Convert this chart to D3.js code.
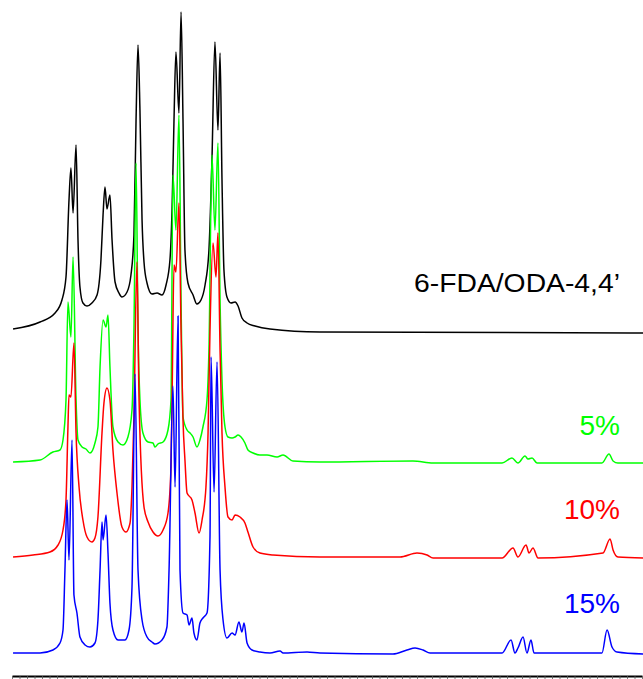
<!DOCTYPE html>
<html>
<head>
<meta charset="utf-8">
<script src="https://cdn.jsdelivr.net/npm/d3@7/dist/d3.min.js"></script>
<style>
  html, body { margin: 0; padding: 0; background: #fff; }
  svg { display: block; }
</style>
</head>
<body>
<script>
// ---------- DATA (chemical shift in ppm, intensity in arbitrary units) ----------
const seriesNames = ["6-FDA/ODA-4,4’", "5%", "10%", "15%"];

const ppmBlack = [8.593,8.413,8.313,8.267,8.24,8.22,8.207,8.193,8.173,8.16,8.147,8.127,8.1,8.067,8.033,8.007,7.993,7.98,7.967,7.947,7.933,7.913,7.887,7.867,7.833,7.807,7.787,7.773,7.76,7.747,7.733,7.72,7.7,7.667,7.633,7.6,7.573,7.547,7.533,7.52,7.507,7.487,7.473,7.46,7.447,7.427,7.393,7.367,7.34,7.313,7.287,7.267,7.247,7.227,7.213,7.2,7.187,7.167,7.14,7.113,7.093,7.067,7.033,6.98,6.88,6.547,4.393];
const intBlack = [4,11,20,33,56,133,165,120,188,93,46,30,27,30,38,73,118,146,124,138,93,51,40,36,41,58,98,213,288,223,113,71,50,39,40,38,48,73,123,213,281,220,321,213,83,50,38,29,33,48,83,173,291,203,280,153,63,36,30,31,27,15,10,7,4,1,0];

const ppmGreen = [8.593,8.413,8.327,8.28,8.26,8.24,8.227,8.207,8.193,8.173,8.16,8.133,8.107,8.08,8.047,8.027,8.013,7.993,7.973,7.96,7.947,7.927,7.893,7.86,7.827,7.8,7.787,7.773,7.76,7.747,7.727,7.693,7.66,7.647,7.627,7.593,7.56,7.54,7.527,7.507,7.487,7.473,7.46,7.433,7.413,7.393,7.367,7.347,7.327,7.3,7.287,7.267,7.247,7.227,7.213,7.2,7.18,7.16,7.133,7.113,7.093,7.073,7.047,7.027,6.993,6.947,6.9,6.833,6.793,6.727,6.547,5.927,5.793,5.333,5.267,5.227,5.18,5.16,5.133,5.1,4.667,4.62,4.593,4.56,4.393];
const intGreen = [1,3,11,13,23,63,161,126,206,63,23,16,14,10,20,36,96,143,136,148,96,36,21,18,26,53,133,300,133,63,30,21,20,16,19,21,33,63,288,233,348,163,46,33,30,26,16,23,36,63,113,308,233,320,163,83,36,26,25,26,28,26,20,13,10,8,8,6,8,2,1,2,0,0,5,0,7,4,5,0,0,9,2,0,0];

const ppmRed = [8.593,8.46,8.347,8.293,8.26,8.24,8.227,8.22,8.207,8.187,8.173,8.153,8.127,8.1,8.067,8.047,8.027,8.0,7.987,7.967,7.947,7.927,7.9,7.867,7.84,7.813,7.8,7.787,7.767,7.753,7.72,7.693,7.66,7.627,7.593,7.56,7.54,7.533,7.52,7.507,7.487,7.473,7.46,7.447,7.433,7.4,7.38,7.353,7.333,7.307,7.293,7.28,7.26,7.24,7.227,7.213,7.2,7.18,7.16,7.133,7.113,7.08,7.047,7.027,6.993,6.947,6.86,6.547,6.013,5.9,5.833,5.793,5.333,5.26,5.227,5.173,5.153,5.127,5.093,4.66,4.613,4.593,4.56,4.393];
const intRed = [1,3,6,13,28,58,131,163,161,215,125,71,38,21,16,20,41,125,155,170,158,108,65,31,26,35,71,141,296,158,51,36,26,22,28,45,91,158,293,286,355,228,138,98,65,58,45,25,38,71,125,228,315,281,325,208,125,71,41,38,43,41,35,26,11,5,3,1,1,5,3,0,0,10,1,13,5,10,0,5,19,8,1,0];

const ppmBlue = [8.593,8.413,8.327,8.28,8.26,8.247,8.233,8.22,8.2,8.187,8.167,8.147,8.113,8.08,8.047,8.027,8.013,8.0,7.993,7.973,7.96,7.947,7.927,7.893,7.847,7.82,7.8,7.78,7.76,7.733,7.7,7.667,7.647,7.6,7.567,7.553,7.527,7.513,7.493,7.48,7.46,7.433,7.42,7.4,7.387,7.367,7.347,7.327,7.3,7.28,7.273,7.253,7.233,7.213,7.193,7.167,7.133,7.113,7.087,7.067,7.053,7.033,7.0,6.947,6.88,6.813,6.793,6.633,6.547,6.06,5.967,5.913,5.86,5.813,5.333,5.273,5.247,5.227,5.193,5.167,5.14,5.12,4.667,4.633,4.6,4.567,4.393];
const intBlue = [1,1,4,11,24,84,154,94,214,59,41,17,9,7,11,34,84,132,114,139,101,51,24,14,14,24,67,280,84,34,17,12,10,14,27,84,268,167,338,84,41,39,29,36,21,14,31,36,41,117,297,162,292,84,34,16,21,19,32,22,31,11,4,2,1,3,1,2,1,0,4,6,4,1,1,14,1,6,17,1,14,1,1,24,7,2,0];

const axisTicks = d3.range(0, 85).map(i => +(4.40 + i * 0.05).toFixed(2)); // minor ticks every 0.05 ppm

// ---------- LAYOUT / STYLE ----------
const W = 643, H = 679;
const stackOffset = { black: 321, green: 191, red: 96, blue: 0 }; // vertical stacking (intensity units)
const colors = { black: "#000000", green: "#00ff00", red: "#ff0000", blue: "#0000ff" };

const x = d3.scaleLinear().domain([8.6, 4.4]).range([12, 642]);
const y = d3.scaleLinear().domain([0, 654]).range([654, 0]);

const svg = d3.select("body").append("svg").attr("width", W).attr("height", H);

const spectra = [
  { key: "black", ppm: ppmBlack, inten: intBlack },
  { key: "green", ppm: ppmGreen, inten: intGreen },
  { key: "red",   ppm: ppmRed,   inten: intRed },
  { key: "blue",  ppm: ppmBlue,  inten: intBlue }
];

spectra.forEach(s => {
  const pts = s.ppm.map((p, i) => [p, s.inten[i] + stackOffset[s.key]]);
  const line = d3.line().x(d => x(d[0])).y(d => y(d[1])).curve(d3.curveMonotoneX);
  svg.append("path")
    .datum(pts)
    .attr("d", line)
    .attr("fill", "none")
    .attr("stroke", colors[s.key])
    .attr("stroke-width", 1.5)
    .attr("stroke-linejoin", "round");
});

// axis
const axis = d3.axisBottom(x).tickValues(axisTicks).tickSize(3).tickSizeOuter(0).tickFormat("");
const gAxis = svg.append("g").attr("transform", "translate(0,676)").call(axis);
gAxis.select(".domain").attr("stroke", "#000").attr("stroke-width", 2);
gAxis.selectAll(".tick line").attr("stroke", "#555").attr("stroke-width", 0.8);

// labels
const labels = [
  { text: seriesNames[0], color: colors.black, y: 292, size: 25, len: 206 },
  { text: seriesNames[1], color: colors.green, y: 435, size: 28 },
  { text: seriesNames[2], color: colors.red,   y: 519, size: 28 },
  { text: seriesNames[3], color: colors.blue,  y: 613, size: 28 }
];
labels.forEach(l => {
  const t = svg.append("text")
    .attr("x", 620).attr("y", l.y)
    .attr("text-anchor", "end")
    .attr("font-family", "'Liberation Sans', Arial, sans-serif")
    .attr("font-size", l.size)
    .attr("fill", l.color)
    .text(l.text);
  if (l.len) t.attr("textLength", l.len).attr("lengthAdjust", "spacingAndGlyphs");
});
</script>
</body>
</html>
